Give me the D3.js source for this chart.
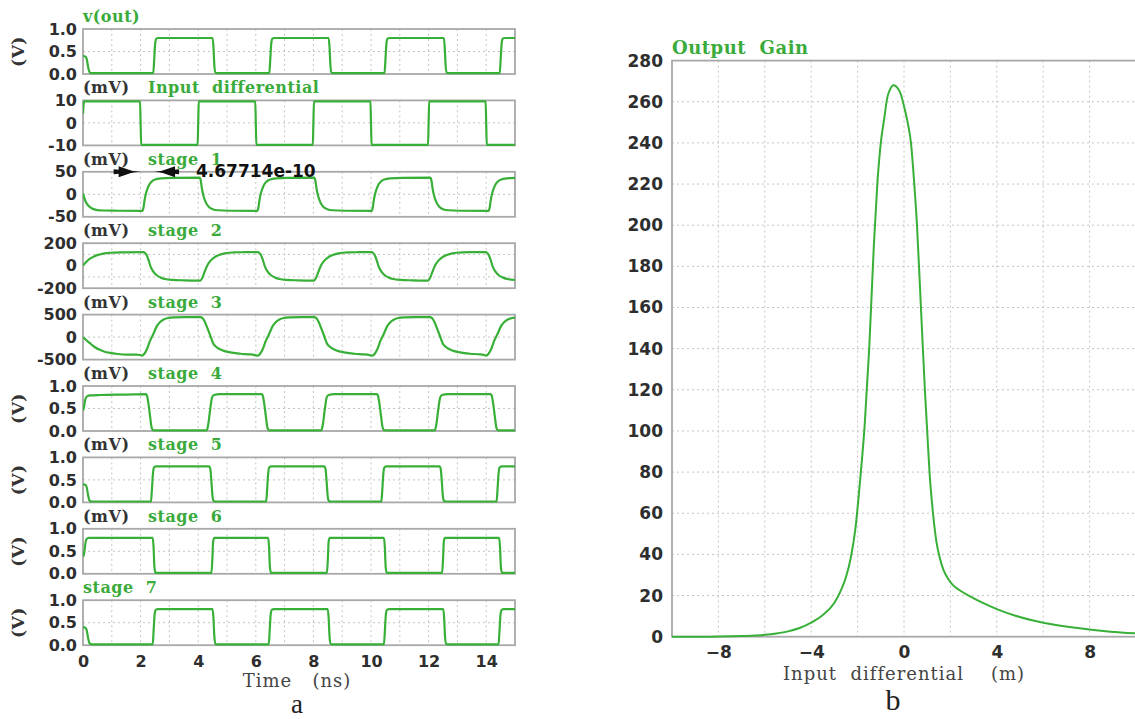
<!DOCTYPE html>
<html>
<head>
<meta charset="utf-8">
<script src="https://cdn.jsdelivr.net/npm/d3@7"></script>
<style>
  body { margin: 0; background: #fff; }
  svg { display: block; }
  .tick text { font-family: "DejaVu Sans", sans-serif; font-weight: bold; fill: #2e2e2e; }
  .ptitle { font-family: "DejaVu Serif", serif; font-weight: bold; font-size: 16px; letter-spacing: 0.5px; fill: #3aab3a; white-space: pre; }
  .unit { font-family: "DejaVu Serif", serif; font-weight: bold; font-size: 16px; letter-spacing: 0.5px; fill: #333; }
  .axtitle { font-family: "DejaVu Serif", serif; font-size: 18px; letter-spacing: 1px; fill: #444; white-space: pre; }
  .sub { font-family: "Liberation Serif", serif; font-size: 27px; fill: #222; }
  .grid { stroke: #c4c4c4; stroke-width: 1; stroke-dasharray: 2 3; }
  .frame { fill: none; stroke: #a8a8a8; stroke-width: 1.8; }
  .wave { fill: none; stroke: #38b038; stroke-width: 2.2; stroke-linejoin: round; }
</style>
</head>
<body>
<svg id="chart" width="1135" height="719"></svg>
<script>
// ---------- transient waveforms (time in ns) ----------
const timeTicks = [0, 2, 4, 6, 8, 10, 12, 14];

const panelTitles = ["v(out)", "Input  differential", "stage  1", "stage  2", "stage  3",
                     "stage  4", "stage  5", "stage  6", "stage  7"];
const panelUnitTags = ["", "(mV)", "(mV)", "(mV)", "(mV)", "(mV)", "(mV)", "(mV)", ""];
const panelAxisUnits = ["(V)", "", "", "", "", "(V)", "(V)", "(V)", "(V)"];
const panelTickValues = [[1, 0.5, 0], [10, 0, -10], [50, 0, -50], [200, 0, -200], [500, 0, -500],
                         [1, 0.5, 0], [1, 0.5, 0], [1, 0.5, 0], [1, 0.5, 0]];
const panelTickLabels = [["1.0", "0.5", "0.0"], ["10", "0", "-10"], ["50", "0", "-50"],
                         ["200", "0", "-200"], ["500", "0", "-500"], ["1.0", "0.5", "0.0"],
                         ["1.0", "0.5", "0.0"], ["1.0", "0.5", "0.0"], ["1.0", "0.5", "0.0"]];
const panelGridValues = [[0.5], [0], [0], [100, -100], [0], [0.5], [0.5], [0.5], [0.5]];

const voutWave = [[0,0.4],[0.08,0.39],[0.13,0.33],[0.18,0.15],[0.23,0.04],[0.3,0.02],
  [2.44,0.02],[2.47,0.3],[2.51,0.7],[2.55,0.79],[2.62,0.8],
  [4.5,0.8],[4.53,0.6],[4.56,0.2],[4.6,0.03],[4.65,0.02],
  [6.47,0.02],[6.5,0.3],[6.54,0.7],[6.58,0.79],[6.65,0.8],
  [8.53,0.8],[8.56,0.6],[8.59,0.2],[8.63,0.03],[8.68,0.02],
  [10.47,0.02],[10.5,0.3],[10.54,0.7],[10.58,0.79],[10.65,0.8],
  [12.53,0.8],[12.56,0.6],[12.59,0.2],[12.63,0.03],[12.68,0.02],
  [14.47,0.02],[14.5,0.3],[14.54,0.7],[14.58,0.79],[14.65,0.8],[15,0.8]];

const inputWave = [[0,4],[0.02,8],[0.05,9.6],[1.98,9.6],[2.0,0],[2.02,-9.8],
  [3.98,-9.8],[4.0,0],[4.02,9.6],[5.98,9.6],[6.0,0],[6.02,-9.8],
  [7.98,-9.8],[8.0,0],[8.02,9.6],[9.98,9.6],[10.0,0],[10.02,-9.8],
  [11.98,-9.8],[12.0,0],[12.02,9.6],[13.98,9.6],[14.0,0],[14.02,-9.8],[15,-9.8]];

const stage1Wave = [[0,2],[0.05,-9],[0.1,-17],[0.2,-26],[0.3,-31],[0.45,-34.5],[0.7,-36],[1.2,-36.5],[2.06,-37],
  [2.1,-30],[2.14,-12],[2.2,5],[2.28,19],[2.38,28],[2.5,33],[2.7,35.5],[3.1,36.5],[4.05,37],
  [4.09,30],[4.13,12],[4.19,-5],[4.27,-19],[4.37,-28],[4.5,-33],[4.7,-35.5],[5.1,-36.5],[6.05,-37],
  [6.09,-30],[6.13,-12],[6.19,5],[6.27,19],[6.37,28],[6.5,33],[6.7,35.5],[7.1,36.5],[8.03,37],
  [8.07,30],[8.11,12],[8.17,-5],[8.25,-19],[8.35,-28],[8.48,-33],[8.68,-35.5],[9.1,-36.5],[10.02,-37],
  [10.06,-30],[10.1,-12],[10.16,5],[10.24,19],[10.34,28],[10.46,33],[10.66,35.5],[11.1,36.5],[12.06,37],
  [12.1,30],[12.14,12],[12.2,-5],[12.28,-19],[12.38,-28],[12.5,-33],[12.7,-35.5],[13.1,-36.5],[14.08,-37],
  [14.12,-30],[14.16,-12],[14.22,5],[14.3,19],[14.4,28],[14.52,33],[14.72,35.5],[15,36.5]];

const stage2Wave = [[0,0],[0.1,30],[0.23,60],[0.4,85],[0.58,100],[0.75,110],[0.93,115],[1.3,119],[2.1,121],
  [2.17,110],[2.25,70],[2.35,-10],[2.45,-55],[2.57,-87],[2.7,-106],[2.85,-118],[3.1,-126],[3.5,-130],[4.07,-132],
  [4.14,-110],[4.2,-70],[4.31,0],[4.43,45],[4.55,72],[4.72,95],[4.92,110],[5.27,118],[5.6,120],[6.07,121],
  [6.14,110],[6.22,70],[6.32,-10],[6.42,-55],[6.54,-87],[6.67,-106],[6.82,-118],[7.07,-126],[7.47,-130],[8.02,-132],
  [8.09,-110],[8.15,-70],[8.26,0],[8.38,45],[8.5,72],[8.67,95],[8.87,110],[9.22,118],[9.55,120],[10.02,121],
  [10.09,110],[10.17,70],[10.27,-10],[10.37,-55],[10.49,-87],[10.62,-106],[10.77,-118],[11.02,-126],[11.42,-130],[11.98,-132],
  [12.05,-110],[12.11,-70],[12.22,0],[12.34,45],[12.46,72],[12.63,95],[12.83,110],[13.18,118],[13.5,120],[13.98,121],
  [14.05,110],[14.13,70],[14.23,-10],[14.33,-55],[14.45,-87],[14.58,-106],[14.73,-118],[15,-127]];

const stage3Wave = [[0,0],[0.1,-60],[0.23,-130],[0.4,-220],[0.58,-283],[0.75,-325],[0.93,-350],[1.2,-375],[1.51,-390],[1.85,-388],[1.98,-398],[2.05,-410],
  [2.13,-370],[2.22,-270],[2.33,-80],[2.45,80],[2.57,250],[2.67,330],[2.8,390],[2.95,425],[3.15,438],[3.55,442],[4.07,442],
  [4.15,420],[4.23,340],[4.32,200],[4.42,30],[4.52,-140],[4.67,-240],[4.87,-300],[5.07,-335],[5.47,-370],[5.82,-385],[5.97,-400],[6.07,-412],
  [6.15,-370],[6.24,-270],[6.35,-80],[6.47,80],[6.59,250],[6.69,330],[6.82,390],[6.97,425],[7.17,438],[7.57,442],[8.02,442],
  [8.1,420],[8.18,340],[8.27,200],[8.37,30],[8.47,-140],[8.62,-240],[8.82,-300],[9.02,-335],[9.42,-370],[9.77,-385],[9.95,-400],[10.05,-412],
  [10.13,-370],[10.22,-270],[10.33,-80],[10.45,80],[10.57,250],[10.67,330],[10.8,390],[10.95,425],[11.15,438],[11.55,442],[12.04,442],
  [12.12,420],[12.2,340],[12.29,200],[12.39,30],[12.49,-140],[12.64,-240],[12.84,-300],[13.04,-335],[13.44,-370],[13.79,-385],[13.93,-400],[14.0,-412],
  [14.08,-370],[14.17,-270],[14.28,-80],[14.4,80],[14.52,250],[14.62,330],[14.75,390],[14.9,425],[15,435]];

const stage4Wave = [[0,0.45],[0.04,0.55],[0.08,0.7],[0.14,0.77],[0.25,0.79],[0.6,0.8],[1.5,0.81],[2.18,0.82],
  [2.22,0.79],[2.27,0.62],[2.33,0.32],[2.39,0.06],[2.45,0.015],
  [4.3,0.015],[4.35,0.15],[4.42,0.5],[4.48,0.74],[4.55,0.8],[4.75,0.82],
  [6.2,0.82],[6.24,0.79],[6.29,0.62],[6.35,0.32],[6.41,0.06],[6.47,0.015],
  [8.28,0.015],[8.33,0.15],[8.4,0.5],[8.46,0.74],[8.53,0.8],[8.73,0.82],
  [10.2,0.82],[10.24,0.79],[10.29,0.62],[10.35,0.32],[10.41,0.06],[10.47,0.015],
  [12.22,0.015],[12.27,0.15],[12.34,0.5],[12.4,0.74],[12.47,0.8],[12.67,0.82],
  [14.15,0.82],[14.19,0.79],[14.24,0.62],[14.3,0.32],[14.36,0.06],[14.42,0.015],[15,0.015]];

const stage5Wave = [[0,0.4],[0.08,0.39],[0.13,0.33],[0.18,0.15],[0.23,0.04],[0.3,0.02],
  [2.36,0.02],[2.39,0.25],[2.43,0.65],[2.47,0.78],[2.54,0.8],
  [4.38,0.8],[4.42,0.75],[4.46,0.45],[4.5,0.12],[4.54,0.03],[4.6,0.02],
  [6.36,0.02],[6.39,0.25],[6.43,0.65],[6.47,0.78],[6.54,0.8],
  [8.38,0.8],[8.42,0.75],[8.46,0.45],[8.5,0.12],[8.54,0.03],[8.6,0.02],
  [10.36,0.02],[10.39,0.25],[10.43,0.65],[10.47,0.78],[10.54,0.8],
  [12.38,0.8],[12.42,0.75],[12.46,0.45],[12.5,0.12],[12.54,0.03],[12.6,0.02],
  [14.36,0.02],[14.39,0.25],[14.43,0.65],[14.47,0.78],[14.54,0.8],[15,0.8]];

const stage6Wave = [[0,0.38],[0.04,0.45],[0.08,0.66],[0.12,0.77],[0.2,0.8],
  [2.42,0.8],[2.45,0.6],[2.48,0.15],[2.52,0.02],
  [4.46,0.02],[4.49,0.3],[4.52,0.72],[4.56,0.8],
  [6.43,0.8],[6.46,0.6],[6.49,0.15],[6.53,0.02],
  [8.47,0.02],[8.5,0.3],[8.53,0.72],[8.57,0.8],
  [10.45,0.8],[10.48,0.6],[10.51,0.15],[10.55,0.02],
  [12.47,0.02],[12.5,0.3],[12.53,0.72],[12.57,0.8],
  [14.45,0.8],[14.48,0.6],[14.51,0.15],[14.55,0.02],[15,0.02]];

const stage7Wave = [[0,0.4],[0.08,0.39],[0.13,0.33],[0.18,0.15],[0.23,0.04],[0.3,0.02],
  [2.42,0.02],[2.45,0.3],[2.49,0.7],[2.53,0.79],[2.6,0.8],
  [4.5,0.8],[4.53,0.6],[4.56,0.2],[4.6,0.03],[4.65,0.02],
  [6.45,0.02],[6.48,0.3],[6.52,0.7],[6.56,0.79],[6.63,0.8],
  [8.5,0.8],[8.53,0.6],[8.56,0.2],[8.6,0.03],[8.65,0.02],
  [10.45,0.02],[10.48,0.3],[10.52,0.7],[10.56,0.79],[10.63,0.8],
  [12.51,0.8],[12.54,0.6],[12.57,0.2],[12.61,0.03],[12.66,0.02],
  [14.43,0.02],[14.46,0.3],[14.5,0.7],[14.54,0.79],[14.61,0.8],[15,0.8]];

const panelWaves = [voutWave, inputWave, stage1Wave, stage2Wave, stage3Wave,
                    stage4Wave, stage5Wave, stage6Wave, stage7Wave];

// measured delay between the input edge and the stage 1 response
const delayStart = 2.0;          // ns
const delayValue = 4.67714e-10;  // s
const delayLabel = "4.67714e-10";

// ---------- gain sweep (input differential in mV) ----------
const gainInput = [-10, -9, -8, -7, -6, -5.5, -5, -4.5, -4, -3.5, -3, -2.7, -2.5, -2.3, -2.1, -1.9,
  -1.7, -1.5, -1.3, -1.15, -1.0, -0.85, -0.72, -0.6, -0.45, -0.3, -0.15, 0.04, 0.19, 0.3, 0.43,
  0.56, 0.73, 0.9, 1.0, 1.1, 1.25, 1.4, 1.55, 1.7, 1.9, 2.1, 2.4, 2.85, 3.4, 4, 4.8, 6, 7.4, 8.9, 10];
const gainValue = [0, 0, 0.05, 0.3, 0.9, 1.6, 2.6, 4.2, 6.8, 10.5, 16.5, 23, 29, 38, 52, 75,
  102, 140, 190, 220, 240, 252, 262, 266, 268, 267, 264, 256, 248, 240, 222,
  200, 160, 120, 100, 80, 60, 46, 38, 32.5, 28.2, 25.2, 22.6, 19.6, 16.4, 13.4, 10.2, 6.8, 4.3, 2.4, 1.6];
const gainYTicks = [0, 20, 40, 60, 80, 100, 120, 140, 160, 180, 200, 220, 240, 260, 280];
const gainXTicks = [-8, -4, 0, 4, 8];
const gainXGrid = [-8, -6, -4, -2, 0, 2, 4, 6, 8];

// ---------- drawing ----------
const svg = d3.select("#chart");
const lineColor = "#38b038";

// Left stack of transient panels
const L = { x0: 83, x1: 515, top0: 29, pitch: 71.4, h: 45 };
const xT = d3.scaleLinear().domain([0, 15]).range([L.x0, L.x1]);
const nsGrid = d3.range(1, 15);

panelWaves.forEach((wave, i) => {
  const top = L.top0 + i * L.pitch;
  const vals = panelTickValues[i];
  const y = d3.scaleLinear().domain([d3.min(vals), d3.max(vals)]).range([top + L.h, top]);
  const g = svg.append("g");

  // grid
  g.selectAll(".gv").data(nsGrid).join("line").attr("class", "grid")
    .attr("x1", d => xT(d)).attr("x2", d => xT(d)).attr("y1", top).attr("y2", top + L.h);
  g.selectAll(".gh").data(panelGridValues[i]).join("line").attr("class", "grid")
    .attr("x1", L.x0).attr("x2", L.x1).attr("y1", d => y(d)).attr("y2", d => y(d));

  // frame
  g.append("rect").attr("class", "frame")
    .attr("x", L.x0).attr("y", top).attr("width", L.x1 - L.x0).attr("height", L.h);

  // y axis labels
  const ax = d3.axisLeft(y).tickValues(vals).tickFormat((d, k) => panelTickLabels[i][k])
    .tickSize(0).tickPadding(5);
  const ag = g.append("g").attr("transform", `translate(${L.x0 - 1},0)`).call(ax);
  ag.select(".domain").remove();
  ag.selectAll("text").style("font-size", "16px");

  // waveform
  const clipId = "clip" + i;
  svg.append("clipPath").attr("id", clipId).append("rect")
    .attr("x", L.x0).attr("y", top - 2).attr("width", L.x1 - L.x0).attr("height", L.h + 4);
  g.append("path").datum(wave).attr("class", "wave").attr("clip-path", `url(#${clipId})`)
    .attr("d", d3.line().x(d => xT(d[0])).y(d => y(d[1])).curve(d3.curveMonotoneX));

  // titles
  if (panelUnitTags[i]) {
    g.append("text").attr("class", "unit").attr("x", L.x0).attr("y", top - 7).text(panelUnitTags[i]);
    g.append("text").attr("class", "ptitle").attr("x", 148).attr("y", top - 7).text(panelTitles[i]);
  } else {
    g.append("text").attr("class", "ptitle").attr("x", L.x0).attr("y", top - 7).text(panelTitles[i]);
  }
  if (panelAxisUnits[i]) {
    g.append("text").attr("class", "unit").style("font-size", "17px")
      .attr("transform", `translate(24,${top + L.h / 2}) rotate(-90)`)
      .attr("text-anchor", "middle").text(panelAxisUnits[i]);
  }
});

// time axis
const lastBottom = L.top0 + 8 * L.pitch + L.h;
const tAxis = svg.append("g").attr("transform", `translate(0,${lastBottom})`)
  .call(d3.axisBottom(xT).tickValues(timeTicks).tickSize(0).tickPadding(10));
tAxis.select(".domain").remove();
tAxis.selectAll("text").style("font-size", "16px");
svg.append("text").attr("class", "axtitle").attr("x", (L.x0 + L.x1) / 2 - 2).attr("y", 687)
  .attr("text-anchor", "middle").text("Time   (ns)");
svg.append("text").attr("class", "sub").attr("x", 297).attr("y", 713).attr("text-anchor", "middle").text("a");

// delay marker on the stage 1 panel
const s1Top = L.top0 + 2 * L.pitch;
const tipA = xT(delayStart);
const tipB = xT(delayStart + delayValue * 1e9);
const arrows = svg.append("g").attr("fill", "#111");
arrows.append("path").attr("d", `M${tipA - 27},${s1Top - 2.5} L${tipA},${s1Top} L${tipA - 27},${s1Top + 2.5} Z`);
arrows.append("path").attr("d", `M${tipA - 22},${s1Top - 5.5} L${tipA - 6},${s1Top} L${tipA - 22},${s1Top + 5.5} Z`);
arrows.append("path").attr("d", `M${tipB},${s1Top} L${tipB + 25},${s1Top - 2.5} L${tipB + 25},${s1Top + 2.5} Z`);
arrows.append("path").attr("d", `M${tipB + 5},${s1Top} L${tipB + 21},${s1Top - 5.5} L${tipB + 21},${s1Top + 5.5} Z`);
svg.append("text").attr("x", 196).attr("y", s1Top + 5)
  .style("font-family", "'DejaVu Sans', sans-serif").style("font-weight", "bold")
  .style("font-size", "17px").style("fill", "#111").text(delayLabel);

// Right: gain versus input differential
const R = { x0: 672, x1: 1136, y0: 636.7, y1: 60.6 };
const xG = d3.scaleLinear().domain([-10, 10]).range([R.x0, R.x1]);
const yG = d3.scaleLinear().domain([0, 280]).range([R.y0, R.y1]);
const rg = svg.append("g");

rg.selectAll(".gv").data(gainXGrid).join("line").attr("class", "grid")
  .attr("x1", d => xG(d)).attr("x2", d => xG(d)).attr("y1", R.y1).attr("y2", R.y0);
rg.selectAll(".gh").data(gainYTicks.filter(d => d > 0 && d < 280)).join("line").attr("class", "grid")
  .attr("x1", R.x0).attr("x2", R.x1).attr("y1", d => yG(d)).attr("y2", d => yG(d));
rg.append("rect").attr("class", "frame")
  .attr("x", R.x0).attr("y", R.y1).attr("width", R.x1 - R.x0).attr("height", R.y0 - R.y1);

const gyAxis = rg.append("g").attr("transform", `translate(${R.x0 - 1},0)`)
  .call(d3.axisLeft(yG).tickValues(gainYTicks).tickSize(0).tickPadding(8));
gyAxis.select(".domain").remove();
gyAxis.selectAll("text").style("font-size", "17px");

const gxAxis = rg.append("g").attr("transform", `translate(0,${R.y0})`)
  .call(d3.axisBottom(xG).tickValues(gainXTicks).tickSize(0).tickPadding(9));
gxAxis.select(".domain").remove();
gxAxis.selectAll("text").style("font-size", "17px");

const gainData = gainInput.map((v, k) => [v, gainValue[k]]);
rg.append("path").datum(gainData).attr("fill", "none").attr("stroke", lineColor)
  .attr("stroke-width", 2)
  .attr("d", d3.line().x(d => xG(d[0])).y(d => yG(d[1])).curve(d3.curveMonotoneX));

rg.append("text").attr("class", "ptitle").style("font-size", "18px")
  .attr("x", R.x0).attr("y", R.y1 - 7).text("Output  Gain");
rg.append("text").attr("class", "axtitle").attr("x", 904).attr("y", 680)
  .attr("text-anchor", "middle").text("Input  differential    (m)");
rg.append("text").attr("class", "sub").style("font-size", "30px")
  .attr("x", 893).attr("y", 710).attr("text-anchor", "middle").text("b");
</script>
</body>
</html>
